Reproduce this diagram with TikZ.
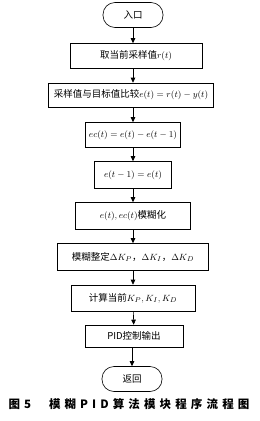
\documentclass[tikz,border=0pt]{standalone}
\usepackage{fontspec}
\usepackage{tikz}
\usetikzlibrary{arrows.meta}
\setmainfont{Noto Sans CJK SC}
\newfontfamily\capfont[LetterSpace=36]{Noto Sans CJK SC}

\tikzset{
    procbox/.style={draw, line width=0.6pt, minimum height=25pt, inner sep=2pt, font=\fontsize{9.5}{11}\selectfont},
    termbox/.style={draw, line width=0.6pt, rounded corners=12pt, minimum height=25pt, minimum width=60pt, font=\fontsize{9.5}{11}\selectfont},
    flow/.style={-{Triangle[length=5pt,width=4.5pt]}, line width=0.6pt}
}

\begin{document}
\begin{tikzpicture}[x=1pt, y=-1pt]
    \useasboundingbox (0,0) rectangle (260,421);

    % start / end
    \node[termbox] (start) at (133,15) {入口};
    \node[termbox] (stop) at (132,379) {返回};

    % process boxes
    \node[procbox, minimum width=132pt] (sample) at (136,56) {取当前采样值$r(t)$};
    \node[procbox, minimum width=165pt, minimum height=24pt] (compare) at (131,95) {采样值与目标值比较$e(t)=r(t)-y(t)$};
    \node[procbox, minimum width=95pt] (delta) at (133,135) {$ec(t)=e(t)-e(t-1)$};
    \node[procbox, minimum width=77pt, minimum height=27pt] (store) at (133,175) {$e(t-1)=e(t)$};
    \node[procbox, minimum width=115pt, minimum height=27pt] (fuzzify) at (133,216) {$e(t),ec(t)$模糊化};
    \node[procbox, minimum width=151pt, minimum height=27pt] (tune) at (133,257) {模糊整定$\Delta K_P$，$\Delta K_I$，$\Delta K_D$};
    \node[procbox, minimum width=124pt, minimum height=26pt] (calc) at (133,298) {计算当前$K_P,K_I,K_D$};
    \node[procbox, minimum width=98pt, minimum height=22pt] (pidout) at (134,336) {PID控制输出};

    % connectors
    \draw[flow] (start) -- (start |- sample.north);
    \draw[flow] (sample.south -| start) -- (start |- compare.north);
    \draw[flow] (compare.south -| start) -- (start |- delta.north);
    \draw[flow] (delta) -- (store);
    \draw[flow] (store) -- (fuzzify);
    \draw[flow] (fuzzify) -- (tune);
    \draw[flow] (tune) -- (calc);
    \draw[flow] (calc) -- (pidout);
    \draw[flow] (pidout.south -| stop) -- (stop);

    % caption
    \node[font=\fontsize{11.5}{13}\selectfont\capfont\bfseries] (caption) at (129,404) {图\hspace{4pt}5\hspace{18pt}模糊\hspace{4pt}PID\hspace{4pt}算法模块程序流程图};
\end{tikzpicture}
\end{document}
